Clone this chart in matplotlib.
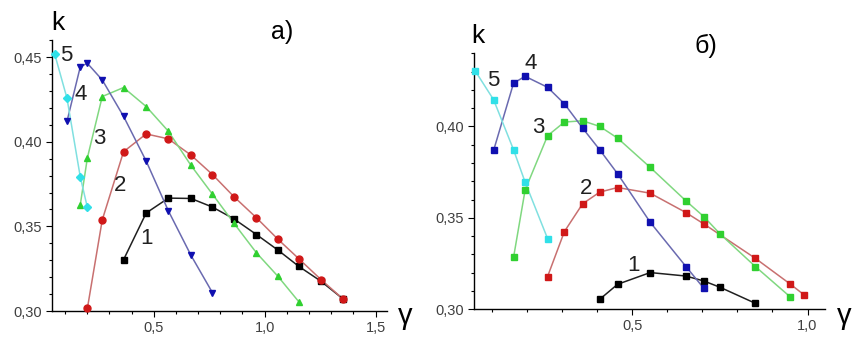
import numpy as np
import matplotlib
matplotlib.use("Agg")
import matplotlib.pyplot as plt
from matplotlib.ticker import MultipleLocator, FuncFormatter

plt.rcParams['font.family'] = ['Liberation Sans', 'DejaVu Sans']

# panel a)
a_x1 = [0.364, 0.466, 0.566, 0.668, 0.765, 0.862, 0.963, 1.060, 1.154, 1.254, 1.353]
a_y1 = [0.3303, 0.3579, 0.3667, 0.3665, 0.3614, 0.3544, 0.3452, 0.3360, 0.3264, 0.3176, 0.3072]
a_x2 = [0.201, 0.268, 0.364, 0.466, 0.566, 0.668, 0.765, 0.862, 0.963, 1.060, 1.154, 1.254, 1.353]
a_y2 = [0.3016, 0.3538, 0.3941, 0.4046, 0.4017, 0.3921, 0.3806, 0.3675, 0.3551, 0.3424, 0.3309, 0.3186, 0.3072]
a_x3 = [0.169, 0.201, 0.268, 0.364, 0.466, 0.566, 0.668, 0.765, 0.862, 0.963, 1.060, 1.154]
a_y3 = [0.3628, 0.3905, 0.4267, 0.4320, 0.4208, 0.4062, 0.3860, 0.3690, 0.3518, 0.3344, 0.3205, 0.3055]
a_x4 = [0.109, 0.169, 0.201, 0.268, 0.364, 0.466, 0.566, 0.668, 0.765]
a_y4 = [0.4120, 0.4443, 0.4463, 0.4365, 0.4150, 0.3886, 0.3592, 0.3329, 0.3108]
a_x5 = [0.054, 0.109, 0.169, 0.201]
a_y5 = [0.4516, 0.4257, 0.3792, 0.3612]

# panel б)
b_x1 = [0.407, 0.458, 0.551, 0.653, 0.704, 0.751, 0.851]
b_y1 = [0.3055, 0.3137, 0.3201, 0.3182, 0.3155, 0.3120, 0.3033]
b_x2 = [0.258, 0.306, 0.358, 0.407, 0.458, 0.551, 0.653, 0.704, 0.851, 0.950, 0.991]
b_y2 = [0.3179, 0.3425, 0.3577, 0.3641, 0.3666, 0.3635, 0.3529, 0.3467, 0.3279, 0.3139, 0.3078]
b_x3 = [0.161, 0.194, 0.258, 0.306, 0.358, 0.407, 0.458, 0.551, 0.653, 0.704, 0.751, 0.851, 0.950]
b_y3 = [0.3285, 0.3653, 0.3949, 0.4024, 0.4031, 0.4000, 0.3936, 0.3776, 0.3593, 0.3507, 0.3411, 0.3234, 0.3069]
b_x4 = [0.104, 0.161, 0.194, 0.258, 0.306, 0.358, 0.407, 0.458, 0.551, 0.653, 0.704]
b_y4 = [0.3869, 0.4237, 0.4274, 0.4214, 0.4124, 0.3991, 0.3872, 0.3741, 0.3476, 0.3234, 0.3115]
b_x5 = [0.051, 0.104, 0.161, 0.194, 0.258]
b_y5 = [0.4305, 0.4146, 0.3872, 0.3695, 0.3387]

curve_names = ['1', '2', '3', '4', '5']
a_label_pos = [(0.468, 0.343), (0.350, 0.374), (0.256, 0.402), (0.171, 0.428), (0.106, 0.451)]
b_label_pos = [(0.504, 0.3237), (0.368, 0.3662), (0.232, 0.3995), (0.211, 0.4343), (0.102, 0.4252)]

line_cols = ['#202020', '#c87070', '#80d880', '#6a6ab0', '#80e0e0']
mark_cols = ['#000000', '#d01818', '#30d030', '#1010b0', '#30e0e8']
a_marks = ['s', 'o', '^', 'v', 'D']

comma = FuncFormatter(lambda v, p: ('%.2f' % v).replace('.', ','))
comma1 = FuncFormatter(lambda v, p: ('%.1f' % v).replace('.', ','))

fig = plt.figure(figsize=(8.64, 3.46), dpi=100)
ax1 = fig.add_axes([0.0598, 0.101, 0.3877, 0.783])
ax2 = fig.add_axes([0.5486, 0.106, 0.4063, 0.740])

def style(ax, xlim, ylim, xmaj, yticks):
    ax.set_xlim(*xlim)
    ax.set_ylim(*ylim)
    for s in ['top', 'right']:
        ax.spines[s].set_visible(False)
    ax.xaxis.set_major_locator(MultipleLocator(xmaj))
    ax.xaxis.set_minor_locator(MultipleLocator(0.1))
    ax.set_yticks(yticks)
    ax.yaxis.set_minor_locator(MultipleLocator(0.01))
    ax.xaxis.set_major_formatter(comma1)
    ax.yaxis.set_major_formatter(comma)
    ax.tick_params(which='major', direction='out', length=4, width=0.8,
                   labelsize=10.5, labelcolor='#404040', pad=3)
    ax.tick_params(which='minor', direction='out', length=2.5, width=0.8)
    ax.spines['left'].set_linewidth(1)
    ax.spines['bottom'].set_linewidth(1)

style(ax1, (0.04, 1.55), (0.30, 0.46), 0.5, [0.30, 0.35, 0.40, 0.45])
style(ax2, (0.048, 1.05), (0.30, 0.44), 0.5, [0.30, 0.35, 0.40])

a_data = [(a_x1, a_y1), (a_x2, a_y2), (a_x3, a_y3), (a_x4, a_y4), (a_x5, a_y5)]
b_data = [(b_x1, b_y1), (b_x2, b_y2), (b_x3, b_y3), (b_x4, b_y4), (b_x5, b_y5)]

for i in range(5):
    ax1.plot(a_data[i][0], a_data[i][1], color=line_cols[i], lw=1.1, zorder=2)
    ax1.plot(a_data[i][0], a_data[i][1], ls='none', marker=a_marks[i],
             ms=5 if a_marks[i] != 'D' else 4.5, color=mark_cols[i], zorder=3,
             clip_on=False)
    ax1.text(a_label_pos[i][0], a_label_pos[i][1], curve_names[i], fontsize=16,
             ha='center', va='center', color='#202020')
    ax2.plot(b_data[i][0], b_data[i][1], color=line_cols[i], lw=1.1, zorder=2)
    ax2.plot(b_data[i][0], b_data[i][1], ls='none', marker='s', ms=4.5,
             color=mark_cols[i], zorder=3, clip_on=False)
    ax2.text(b_label_pos[i][0], b_label_pos[i][1], curve_names[i], fontsize=16,
             ha='center', va='center', color='#202020')

fig.text(58 / 864, 1 - 23 / 346, 'k', fontsize=19, ha='center', va='center')
fig.text(405 / 864, 1 - 316 / 346, 'γ', fontsize=21, ha='center', va='center')
fig.text(282 / 864, 1 - 32 / 346, 'а)', fontsize=18, ha='center', va='center')
fig.text(478 / 864, 1 - 36 / 346, 'k', fontsize=19, ha='center', va='center')
fig.text(844 / 864, 1 - 316 / 346, 'γ', fontsize=21, ha='center', va='center')
fig.text(706 / 864, 1 - 46 / 346, 'б)', fontsize=18, ha='center', va='center')

fig.savefig('out.png', dpi=100)
